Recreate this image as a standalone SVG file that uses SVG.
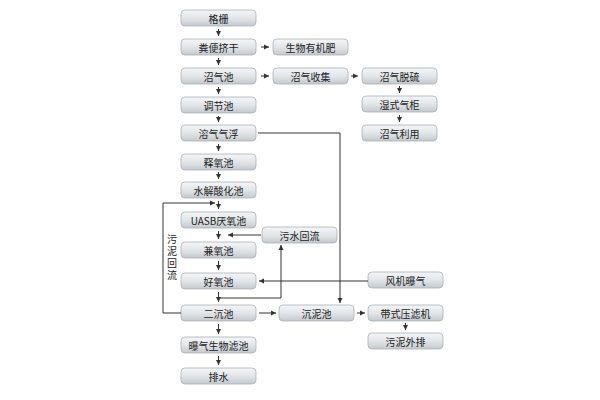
<svg xmlns="http://www.w3.org/2000/svg" width="600" height="400" viewBox="0 0 600 400">
<defs>
<linearGradient id="g" x1="0" y1="0" x2="0" y2="1"><stop offset="0" stop-color="#f4f6f7"/><stop offset="0.5" stop-color="#e2e6e9"/><stop offset="1" stop-color="#c3c9ce"/></linearGradient>
<marker id="a" markerWidth="6" markerHeight="6" refX="5" refY="3" orient="auto" markerUnits="userSpaceOnUse"><path d="M0,0.5 L5,3 L0,5.5 Z" fill="#333"/></marker>
<style>
.b{fill:url(#g);stroke:#a9b0b6;stroke-width:0.8}
.t{font-family:"Noto Sans CJK SC","Liberation Sans",sans-serif;font-size:10px;fill:#222;text-anchor:middle;dominant-baseline:central}
.v{font-family:"Noto Sans CJK SC","Liberation Sans",sans-serif;font-size:10px;fill:#222;text-anchor:middle;writing-mode:vertical-rl;letter-spacing:2px}
.c{fill:none;stroke:#333;stroke-width:1}
.s{fill:none;stroke:#333;stroke-width:1;marker-end:url(#a)}
</style>
</defs>
<rect width="600" height="400" fill="#fff"/>
<g id="n1"><rect class="b" x="181" y="10" width="75" height="16" rx="4"/><text class="t" x="218.5" y="18">格栅</text></g>
<g id="n2"><rect class="b" x="181" y="39" width="75" height="16" rx="4"/><text class="t" x="218.5" y="47">粪便挤干</text></g>
<g id="n3"><rect class="b" x="181" y="68" width="75" height="16" rx="4"/><text class="t" x="218.5" y="76">沼气池</text></g>
<g id="n4"><rect class="b" x="181" y="97" width="75" height="16" rx="4"/><text class="t" x="218.5" y="105">调节池</text></g>
<g id="n5"><rect class="b" x="181" y="125" width="75" height="16" rx="4"/><text class="t" x="218.5" y="133">溶气气浮</text></g>
<g id="n6"><rect class="b" x="181" y="154" width="75" height="16" rx="4"/><text class="t" x="218.5" y="162">释氧池</text></g>
<g id="n7"><rect class="b" x="181" y="182" width="75" height="16" rx="4"/><text class="t" x="218.5" y="190">水解酸化池</text></g>
<g id="n8"><rect class="b" x="181" y="212" width="75" height="16" rx="4"/><text class="t" x="218.5" y="220">UASB厌氧池</text></g>
<g id="n9"><rect class="b" x="181" y="242" width="75" height="16" rx="4"/><text class="t" x="218.5" y="250">兼氧池</text></g>
<g id="n10"><rect class="b" x="181" y="273" width="75" height="16" rx="4"/><text class="t" x="218.5" y="281">好氧池</text></g>
<g id="n11"><rect class="b" x="181" y="305" width="75" height="16" rx="4"/><text class="t" x="218.5" y="313">二沉池</text></g>
<g id="n12"><rect class="b" x="181" y="337" width="75" height="16" rx="4"/><text class="t" x="218.5" y="345">曝气生物滤池</text></g>
<g id="n13"><rect class="b" x="181" y="368" width="75" height="16" rx="4"/><text class="t" x="218.5" y="376">排水</text></g>
<g id="n14"><rect class="b" x="273" y="39" width="75" height="16" rx="4"/><text class="t" x="310.5" y="47">生物有机肥</text></g>
<g id="n15"><rect class="b" x="273" y="68" width="75" height="16" rx="4"/><text class="t" x="310.5" y="76">沼气收集</text></g>
<g id="n16"><rect class="b" x="362" y="68" width="75" height="16" rx="4"/><text class="t" x="399.5" y="76">沼气脱硫</text></g>
<g id="n17"><rect class="b" x="362" y="96" width="75" height="16" rx="4"/><text class="t" x="399.5" y="104">湿式气柜</text></g>
<g id="n18"><rect class="b" x="362" y="125" width="75" height="16" rx="4"/><text class="t" x="399.5" y="133">沼气利用</text></g>
<g id="n19"><rect class="b" x="262" y="227" width="75" height="16" rx="4"/><text class="t" x="299.5" y="235">污水回流</text></g>
<g id="n20"><rect class="b" x="368" y="272" width="75" height="16" rx="4"/><text class="t" x="405.5" y="280">风机曝气</text></g>
<g id="n21"><rect class="b" x="279" y="305" width="75" height="16" rx="4"/><text class="t" x="316.5" y="313">沉泥池</text></g>
<g id="n22"><rect class="b" x="368" y="305" width="75" height="16" rx="4"/><text class="t" x="405.5" y="313">带式压滤机</text></g>
<g id="n23"><rect class="b" x="368" y="333" width="75" height="16" rx="4"/><text class="t" x="405.5" y="341">污泥外排</text></g>
<g id="label"><text class="v" x="172" y="258">污泥回流</text></g>
<g id="connectors">
<path class="s" d="M218.5,29 V36"/><path class="s" d="M218.5,58 V65"/><path class="s" d="M218.5,87 V94"/><path class="s" d="M218.5,116 V122"/><path class="s" d="M218.5,144 V151"/><path class="s" d="M218.5,172 V179"/><path class="s" d="M218.5,201 V209"/><path class="s" d="M218.5,231 V239"/><path class="s" d="M218.5,261 V270"/><path class="s" d="M218.5,292 V302"/><path class="s" d="M218.5,324 V334"/><path class="s" d="M218.5,356 V365"/>
<path class="s" d="M261,47 H269"/><path class="s" d="M261,76 H269"/><path class="s" d="M351,76 H358"/>
<path class="s" d="M399.5,86 V93"/><path class="s" d="M399.5,115 V122"/><path class="s" d="M405.5,323 V330"/>
<path class="s" d="M259,313 H276"/><path class="s" d="M357,313 H365"/>
<path class="s" d="M258,133 H340 V303"/>
<path class="s" d="M368,281 H259"/>
<path class="c" d="M218.5,298 H281"/><path class="s" d="M281,298 V245"/>
<path class="s" d="M261,235 H228"/>
<path class="c" d="M181,313 H163 V203"/><path class="s" d="M163,203 H215"/>
</g>
</svg>
